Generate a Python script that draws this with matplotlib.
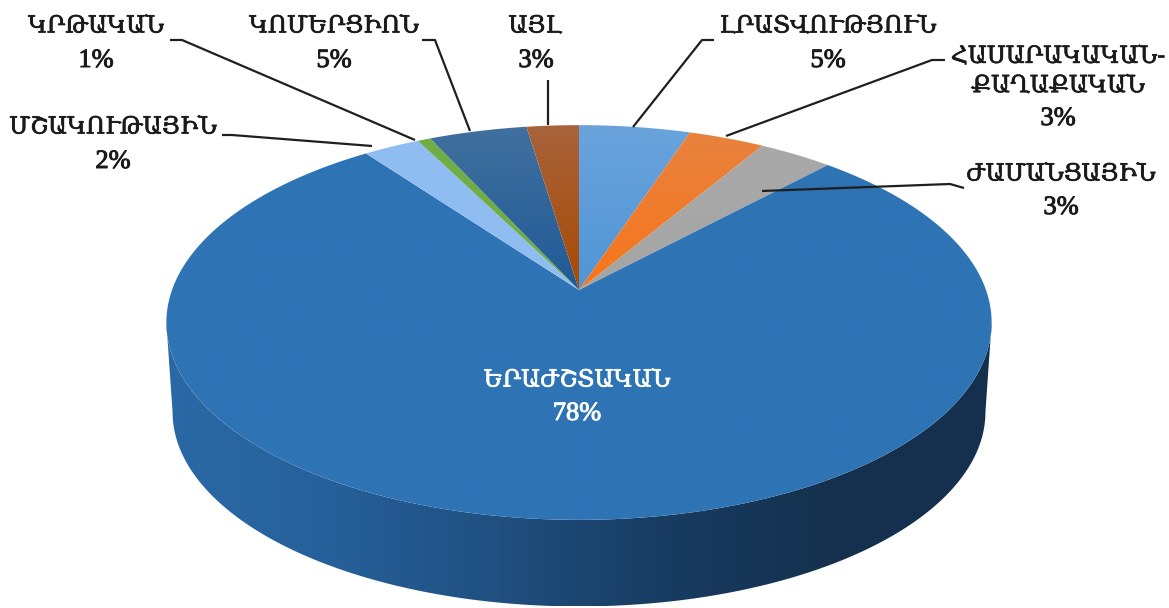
import numpy as np
import matplotlib
matplotlib.use("Agg")
import matplotlib.pyplot as plt
import matplotlib.patheffects as pe
from matplotlib.colors import LinearSegmentedColormap
from matplotlib.patches import Polygon

# clockwise from 12 o'clock
categories = ["ԼՐԱՏՎՈՒԹՅՈՒՆ", "ՀԱՍԱՐԱԿԱԿԱՆ-\nՔԱՂԱՔԱԿԱՆ", "ԺԱՄԱՆՑԱՅԻՆ", "ԵՐԱԺՇՏԱԿԱՆ",
              "ՄՇԱԿՈՒԹԱՅԻՆ", "ԿՐԹԱԿԱՆ", "ԿՈՄԵՐՑԻՈՆ", "ԱՅԼ"]
shares = [5.1, 3.5, 3.4, 77.9, 2.6, 0.6, 4.5, 2.4]
percents = ["5%", "3%", "3%", "78%", "2%", "1%", "5%", "3%"]

colors_far = ["#6aa3dc", "#e8823e", "#a9a9a9", "#2e74b5", "#8fbdf2", "#70ad47", "#41709f", "#a8633c"]
colors_near = ["#5095d6", "#f8751a", "#a5a5a5", "#2e74b5", "#8fbdf2", "#70ad47", "#1f5a96", "#a84a02"]
side_colors = ["#2a69a6", "#26609a", "#204f80", "#183c62", "#15314f", "#14304e"]

# name position, percent position (pixels)
name_pos = [(828, 26), (1058, 71), (1061, 174), (577, 380), (113, 127), (96, 26), (334, 26), (535, 26)]
pct_pos = [(828, 61), (1058, 119), (1061, 208), (577, 414), (113, 162), (96, 61), (334, 61), (536, 61)]
leaders = [
    [(714, 40), (702, 40), (633, 127)],
    [(945, 60), (932, 60), (726, 136)],
    [(762, 191), (950, 184), (964, 188)],
    None,
    [(222, 135), (232, 135), (372, 146)],
    [(170, 40), (182, 40), (415, 140)],
    [(422, 40), (435, 40), (470, 131)],
    [(548, 80), (548, 125)],
]

W, H = 1169, 608
CX, CY = 579, 290
A, B, K = 407.0, 192.0, 0.1647
DROP, SHRINK = 90, 0.985


def project(t, drop=0, scale=1.0):
    # tilted disc with a little perspective, t is clockwise from the far point
    u, v = np.sin(t), np.cos(t)
    w = 1 + K * v
    return np.column_stack([CX + scale * A * u / w, CY + drop - scale * B * v / w])


def front_arc(drop=0, scale=1.0):
    # from the rightmost point round the front to the leftmost point
    pts = project(np.linspace(0, 2 * np.pi, 1000), drop, scale)
    r, l = pts[:, 0].argmax(), pts[:, 0].argmin()
    return pts[r:l + 1]


def gradient_fill(ax, pts, cmap, horizontal, zorder):
    x0, x1 = pts[:, 0].min(), pts[:, 0].max()
    y0, y1 = pts[:, 1].min(), pts[:, 1].max()
    g = np.linspace(0, 1, 256)
    g = g.reshape(1, -1) if horizontal else g.reshape(-1, 1)
    im = ax.imshow(g, cmap=cmap, extent=(x0, x1, y1, y0), aspect="auto", zorder=zorder, vmin=0, vmax=1)
    poly = Polygon(pts, closed=True, transform=ax.transData, fc="none", ec="none")
    ax.add_patch(poly)
    im.set_clip_path(poly)


fig = plt.figure(figsize=(W / 100, H / 100), dpi=100, facecolor="white")
ax = fig.add_axes([0, 0, 1, 1])

# side wall
wall = np.vstack([front_arc(), front_arc(DROP, SHRINK)[::-1]])
gradient_fill(ax, wall, LinearSegmentedColormap.from_list("side", side_colors), True, 1)

# top face
edges = np.radians(np.concatenate([[0], np.cumsum(shares)]) * 3.6)
for i in range(len(shares)):
    t = np.linspace(edges[i], edges[i + 1], 200)
    pts = np.vstack([[CX, CY], project(t)])
    cmap = LinearSegmentedColormap.from_list("s%d" % i, [colors_far[i], colors_near[i]])
    gradient_fill(ax, pts, cmap, False, 2)

for line in leaders:
    if line:
        xs, ys = zip(*line)
        ax.plot(xs, ys, color="#1f1f1f", lw=1.6, zorder=5, solid_capstyle="butt")

for i, name in enumerate(categories):
    col = "white" if i == 3 else "#1a1a1a"
    t1 = ax.text(*name_pos[i], name, ha="center", va="center", color=col, fontsize=17,
                 family="DejaVu Serif", linespacing=1.35, zorder=6)
    t2 = ax.text(*pct_pos[i], percents[i], ha="center", va="center", color=col, fontsize=19,
                 family="Liberation Serif", zorder=6)
    t1.set_path_effects([pe.withStroke(linewidth=0.5, foreground=col)])
    t2.set_path_effects([pe.withStroke(linewidth=0.7, foreground=col)])

ax.set_xlim(0, W)
ax.set_ylim(H, 0)
ax.axis("off")
fig.savefig("out.png", dpi=100, facecolor="white")
